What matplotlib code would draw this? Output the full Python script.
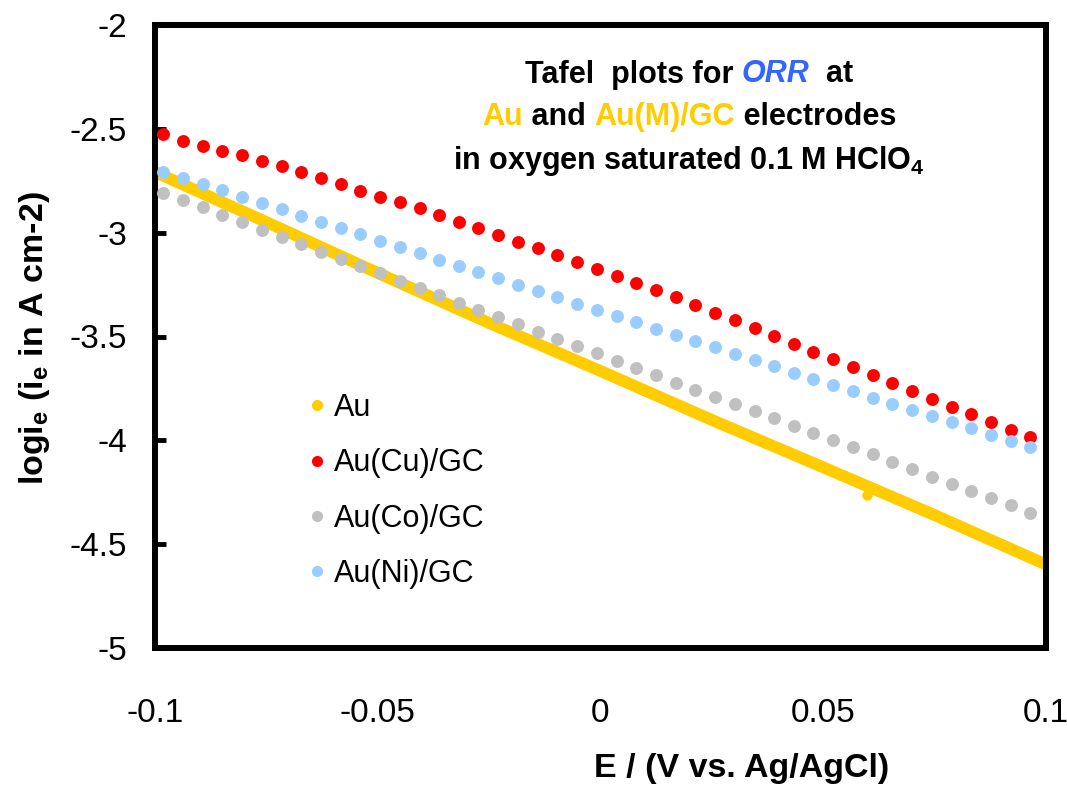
import matplotlib
matplotlib.use("Agg")
import matplotlib.pyplot as plt
from matplotlib.lines import Line2D
from matplotlib.offsetbox import TextArea, HPacker, VPacker, AnchoredOffsetbox

plt.rcParams['font.family'] = ['Liberation Sans', 'DejaVu Sans']
plt.rcParams['mathtext.fontset'] = 'custom'
plt.rcParams['mathtext.rm'] = 'Liberation Sans:bold'
plt.rcParams['mathtext.it'] = 'Liberation Sans:bold:italic'
plt.rcParams['mathtext.bf'] = 'Liberation Sans:bold'
plt.rcParams['mathtext.default'] = 'rm'
plt.rcParams['axes.unicode_minus'] = False

# Potential (V vs. Ag/AgCl) of the sampled points for the alloy electrodes
E = [-0.0981, -0.0937, -0.0893, -0.0849, -0.0804, -0.0760, -0.0716, -0.0672,
     -0.0627, -0.0583, -0.0539, -0.0495, -0.0450, -0.0406, -0.0362, -0.0318,
     -0.0274, -0.0229, -0.0185, -0.0141, -0.0097, -0.0052, -0.0008, 0.0036,
     0.0080, 0.0125, 0.0169, 0.0213, 0.0257, 0.0302, 0.0346, 0.0390,
     0.0434, 0.0478, 0.0523, 0.0567, 0.0611, 0.0655, 0.0700, 0.0744,
     0.0788, 0.0832, 0.0877, 0.0921, 0.0965]

au_cu = [-2.525, -2.557, -2.581, -2.607, -2.626, -2.653, -2.679, -2.706,
         -2.737, -2.767, -2.798, -2.827, -2.854, -2.883, -2.915, -2.949,
         -2.979, -3.011, -3.043, -3.075, -3.108, -3.141, -3.175, -3.209,
         -3.241, -3.276, -3.311, -3.348, -3.387, -3.421, -3.458, -3.496,
         -3.535, -3.573, -3.610, -3.648, -3.687, -3.725, -3.762, -3.801,
         -3.838, -3.875, -3.912, -3.949, -3.985]

au_co = [-2.810, -2.843, -2.878, -2.915, -2.950, -2.986, -3.019, -3.056,
         -3.092, -3.127, -3.160, -3.196, -3.231, -3.265, -3.300, -3.337,
         -3.372, -3.406, -3.441, -3.477, -3.511, -3.546, -3.581, -3.618,
         -3.652, -3.687, -3.722, -3.758, -3.793, -3.825, -3.860, -3.894,
         -3.929, -3.963, -3.998, -4.034, -4.067, -4.104, -4.139, -4.175,
         -4.210, -4.244, -4.279, -4.313, -4.348]

au_ni = [-2.706, -2.735, -2.766, -2.795, -2.827, -2.856, -2.886, -2.918,
         -2.947, -2.979, -3.008, -3.039, -3.068, -3.099, -3.130, -3.159,
         -3.189, -3.220, -3.251, -3.279, -3.311, -3.342, -3.371, -3.401,
         -3.432, -3.462, -3.491, -3.522, -3.552, -3.584, -3.615, -3.643,
         -3.674, -3.705, -3.735, -3.764, -3.795, -3.825, -3.854, -3.881,
         -3.912, -3.942, -3.973, -4.003, -4.034]

# Bulk Au electrode (densely sampled, drawn as a continuous band)
E_au = [-0.100, -0.075, -0.050, -0.025, 0.000, 0.025, 0.050, 0.075, 0.100]
au = [-2.708, -2.949, -3.194, -3.435, -3.666, -3.902, -4.130, -4.360, -4.598]
# one stray Au reading that sits just below the band
E_au_stray = [0.0598]
au_stray = [-4.262]

x_ticks = [-0.1, -0.05, 0, 0.05, 0.1]
x_labels = ['-0.1', '-0.05', '0', '0.05', '0.1']
y_ticks = [-2, -2.5, -3, -3.5, -4, -4.5, -5]
y_labels = ['-2', '-2.5', '-3', '-3.5', '-4', '-4.5', '-5']

series_colors = {'Au': '#FFCC00', 'Au(Cu)/GC': '#FF0000',
                 'Au(Co)/GC': '#C0C0C0', 'Au(Ni)/GC': '#99CCFF'}

W, H = 1067, 789
fig = plt.figure(figsize=(W / 100, H / 100), dpi=100)
ax = fig.add_axes([155 / W, 1 - 648 / H, (1046 - 155) / W, (648 - 25) / H])

ms = 9.3
ax.plot(E_au, au, color=series_colors['Au'], lw=8.5,
        solid_capstyle='butt', solid_joinstyle='round', zorder=2)
ax.plot(E_au_stray, au_stray, 'o', ls='none', color=series_colors['Au'],
        ms=7.5, mew=0, zorder=2)
ax.plot(E, au_cu, 'o', ls='none', color=series_colors['Au(Cu)/GC'], ms=ms, mew=0, zorder=3)
ax.plot(E, au_co, 'o', ls='none', color=series_colors['Au(Co)/GC'], ms=ms, mew=0, zorder=4)
ax.plot(E, au_ni, 'o', ls='none', color=series_colors['Au(Ni)/GC'], ms=ms, mew=0, zorder=5)

ax.set_xlim(-0.1, 0.1)
ax.set_ylim(-5, -2)
ax.set_xticks(x_ticks)
ax.set_xticklabels(x_labels)
ax.set_yticks(y_ticks)
ax.set_yticklabels(y_labels)
for s in ax.spines.values():
    s.set_linewidth(4.3)
    s.set_color('black')
ax.tick_params(axis='both', direction='in', length=8, width=3.5, labelsize=24)
ax.tick_params(axis='x', length=0, pad=36)
ax.tick_params(axis='y', pad=20)

# Axis titles
fig.text(35 / W, 1 - 338 / H, 'logi$_e$ (i$_e$ in A cm-2)', rotation=90,
         ha='center', va='center', fontsize=24.5, fontweight='bold')
fig.text(742 / W, 1 - 768 / H, 'E / (V vs. Ag/AgCl)',
         ha='center', va='center', fontsize=24.5, fontweight='bold')

# Legend
handles = [Line2D([], [], ls='none', marker='o', ms=8, mew=0, color=c)
           for c in series_colors.values()]
ax.legend(handles, list(series_colors.keys()), loc='upper left',
          bbox_to_anchor=(308 / W, 1 - 393 / H), bbox_transform=fig.transFigure,
          frameon=False, fontsize=22, handlelength=0.6, handletextpad=0.25,
          labelspacing=0.83, borderpad=0, borderaxespad=0)

# Multi-coloured annotation block
fs = 22
blk = dict(color='black', fontsize=fs, fontweight='bold')
yel = dict(color='#FFCC00', fontsize=fs, fontweight='bold')
line1 = HPacker(children=[
    TextArea('Tafel  plots for ', textprops=blk),
    TextArea('ORR', textprops=dict(color='#3366FF', fontsize=fs,
                                   fontweight='bold', fontstyle='italic')),
    TextArea('  at', textprops=blk)], sep=0, pad=0, align='baseline')
line2 = HPacker(children=[
    TextArea('Au', textprops=yel),
    TextArea(' and ', textprops=blk),
    TextArea('Au(M)/GC', textprops=yel),
    TextArea(' electrodes', textprops=blk)], sep=0, pad=0, align='baseline')
line3 = HPacker(children=[
    TextArea('in oxygen saturated 0.1 M HClO$_4$', textprops=blk)],
    sep=0, pad=0, align='baseline')
block = VPacker(children=[line1, line2, line3], sep=9, pad=0, align='center')
ab = AnchoredOffsetbox(loc='center', child=block, frameon=False, pad=0,
                       borderpad=0, bbox_to_anchor=(689 / W, 1 - 119 / H),
                       bbox_transform=fig.transFigure)
fig.add_artist(ab)

fig.savefig('out.png', dpi=100)
